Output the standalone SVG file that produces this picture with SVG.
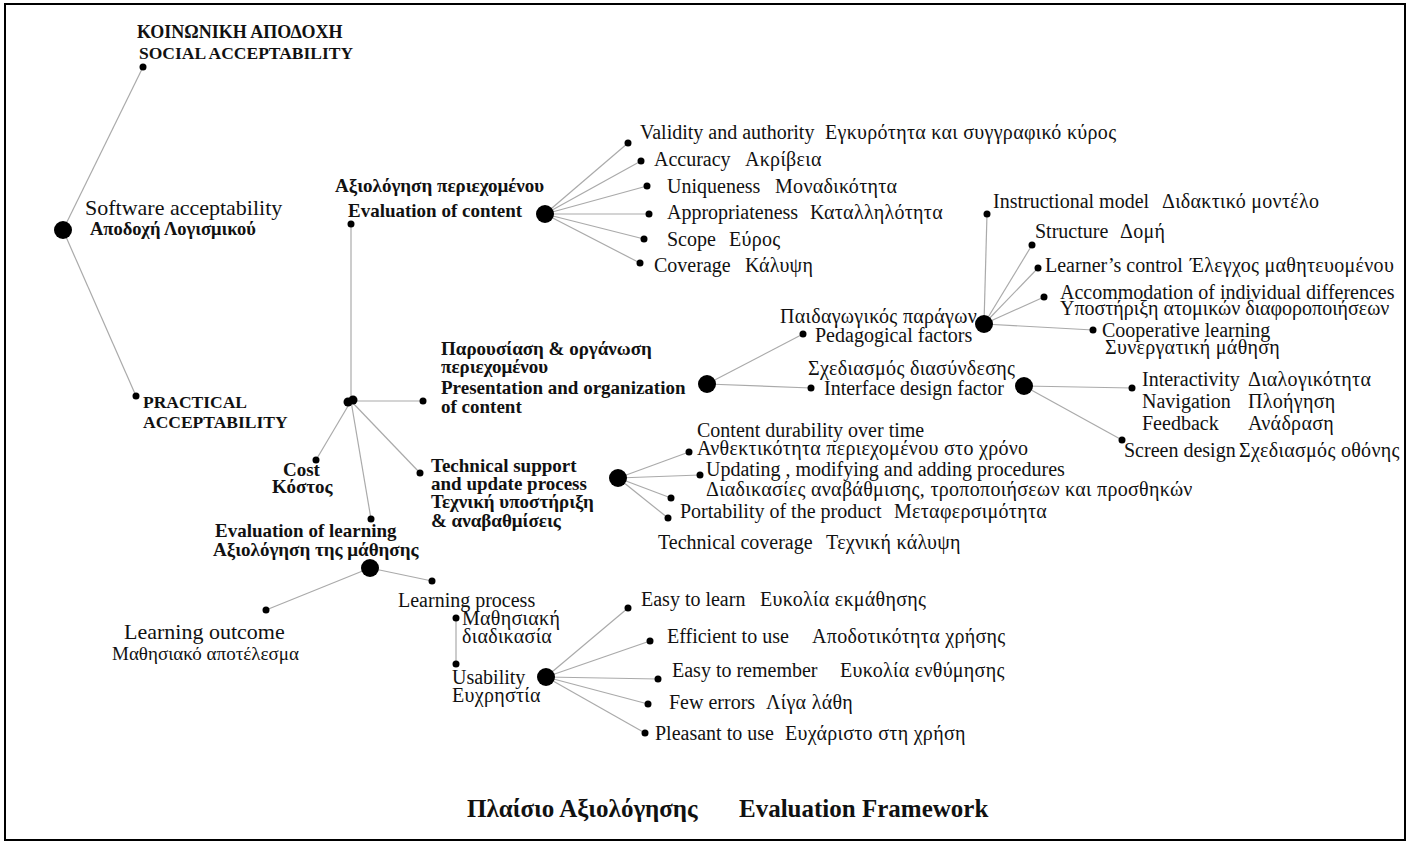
<svg xmlns="http://www.w3.org/2000/svg" width="1410" height="845" viewBox="0 0 1410 845">
<style>
text{font-family:"Liberation Serif","DejaVu Serif",serif;font-size:20px;fill:#111}
.g{letter-spacing:0.3px}
.b{font-weight:bold;font-size:19px}
.h{font-weight:bold;font-size:17.5px}
.big{font-size:22px}
.t{font-weight:bold;font-size:25px}
.ln line{stroke:#aaa;stroke-width:1.2}
circle{fill:#000}
</style>
<rect x="5" y="4" width="1400" height="836" fill="#fff" stroke="#000" stroke-width="2"/>
<g class="ln" id="connectors">
<line x1="63" y1="230" x2="143" y2="67"/>
<line x1="63" y1="230" x2="136" y2="396"/>
<line x1="351" y1="401" x2="351" y2="224"/>
<line x1="351" y1="401" x2="423" y2="401"/>
<line x1="351" y1="401" x2="316" y2="460"/>
<line x1="351" y1="401" x2="371" y2="519"/>
<line x1="351" y1="401" x2="420" y2="473"/>
<line x1="545" y1="214" x2="628" y2="143"/>
<line x1="545" y1="214" x2="641" y2="161"/>
<line x1="545" y1="214" x2="647" y2="186"/>
<line x1="545" y1="214" x2="649" y2="214"/>
<line x1="545" y1="214" x2="644" y2="239"/>
<line x1="545" y1="214" x2="640" y2="263"/>
<line x1="707" y1="384" x2="803" y2="334"/>
<line x1="707" y1="384" x2="811" y2="388"/>
<line x1="984" y1="324" x2="987" y2="214"/>
<line x1="984" y1="324" x2="1032" y2="245"/>
<line x1="984" y1="324" x2="1038" y2="268"/>
<line x1="984" y1="324" x2="1044" y2="297"/>
<line x1="984" y1="324" x2="1093" y2="330"/>
<line x1="1024" y1="386" x2="1132" y2="388"/>
<line x1="1024" y1="386" x2="1122" y2="440"/>
<line x1="618" y1="478" x2="689" y2="452"/>
<line x1="618" y1="478" x2="700" y2="475"/>
<line x1="618" y1="478" x2="671" y2="498"/>
<line x1="618" y1="478" x2="668" y2="518"/>
<line x1="370" y1="568" x2="266" y2="610"/>
<line x1="370" y1="568" x2="432" y2="581"/>
<line x1="456" y1="618" x2="456" y2="664"/>
<line x1="546" y1="677" x2="628" y2="608"/>
<line x1="546" y1="677" x2="650" y2="641"/>
<line x1="546" y1="677" x2="658" y2="679"/>
<line x1="546" y1="677" x2="648" y2="704"/>
<line x1="546" y1="677" x2="645" y2="733"/>
</g>
<g id="software">
<circle cx="63" cy="230" r="9"/>
<text x="85" y="215" class="big">Software acceptability</text>
<text x="90" y="235" class="h" style="font-size:18.5px">Αποδοχή Λογισμικού</text>
</g>
<g id="social">
<circle cx="143" cy="67" r="3.5"/>
<text x="137" y="38" class="h" style="font-size:18px">ΚΟΙΝΩΝΙΚΗ ΑΠΟΔΟΧΗ</text>
<text x="139" y="59" class="h">SOCIAL ACCEPTABILITY</text>
</g>
<g id="practical">
<circle cx="136" cy="396" r="3.5"/>
<text x="143" y="408" class="h">PRACTICAL</text>
<text x="143" y="428" class="h">ACCEPTABILITY</text>
</g>
<g id="hub">
<circle cx="348" cy="402" r="4.5"/>
<circle cx="353" cy="400" r="4.5"/>
</g>
<g id="eval-content">
<circle cx="351" cy="224" r="3.5"/>
<text x="335" y="192" class="b">Αξιολόγηση περιεχομένου</text>
<text x="348" y="217" class="b">Evaluation of content</text>
<circle cx="545" cy="214" r="9"/>
</g>
<g id="content-leaves">
<circle cx="628" cy="143" r="3.5"/><text x="640" y="139">Validity and authority<tspan x="825" class="g">Εγκυρότητα και συγγραφικό κύρος</tspan></text>
<circle cx="641" cy="161" r="3.5"/><text x="654" y="166">Accuracy<tspan x="745" class="g">Ακρίβεια</tspan></text>
<circle cx="647" cy="186" r="3.5"/><text x="667" y="193">Uniqueness<tspan x="775" class="g">Μοναδικότητα</tspan></text>
<circle cx="649" cy="214" r="3.5"/><text x="667" y="219">Appropriateness<tspan x="810" class="g">Καταλληλότητα</tspan></text>
<circle cx="644" cy="239" r="3.5"/><text x="667" y="246">Scope<tspan x="729" class="g">Εύρος</tspan></text>
<circle cx="640" cy="263" r="3.5"/><text x="654" y="272">Coverage<tspan x="745" class="g">Κάλυψη</tspan></text>
</g>
<g id="presentation">
<circle cx="423" cy="401" r="3.5"/>
<text x="441" y="355" class="b">Παρουσίαση &amp; οργάνωση</text>
<text x="441" y="373" class="b">περιεχομένου</text>
<text x="441" y="394" class="b">Presentation and organization</text>
<text x="441" y="413" class="b">of content</text>
<circle cx="707" cy="384" r="9"/>
</g>
<g id="pedagogical">
<circle cx="803" cy="334" r="3.5"/>
<text x="780" y="323" class="g">Παιδαγωγικός παράγων</text>
<text x="815" y="342">Pedagogical factors</text>
<circle cx="984" cy="324" r="9"/>
</g>
<g id="pedagogical-leaves">
<circle cx="987" cy="214" r="3.5"/><text x="993" y="208">Instructional model<tspan x="1162" class="g">Διδακτικό μοντέλο</tspan></text>
<circle cx="1032" cy="245" r="3.5"/><text x="1035" y="238">Structure<tspan x="1120" class="g">Δομή</tspan></text>
<circle cx="1038" cy="268" r="3.5"/><text x="1045" y="272">Learner’s control<tspan x="1190" class="g">Έλεγχος μαθητευομένου</tspan></text>
<circle cx="1044" cy="297" r="3.5"/><text x="1060" y="299">Accommodation of individual differences</text><text x="1060" y="315">Υποστήριξη ατομικών διαφοροποιήσεων</text>
<circle cx="1093" cy="330" r="3.5"/><text x="1102" y="337">Cooperative learning</text><text x="1105" y="354" class="g">Συνεργατική μάθηση</text>
</g>
<g id="interface">
<circle cx="811" cy="388" r="3.5"/>
<text x="808" y="375" class="g">Σχεδιασμός διασύνδεσης</text>
<text x="824" y="395">Interface design factor</text>
<circle cx="1024" cy="386" r="9"/>
</g>
<g id="interface-leaves">
<circle cx="1132" cy="388" r="3.5"/>
<text x="1142" y="386">Interactivity<tspan x="1248" class="g">Διαλογικότητα</tspan></text>
<text x="1142" y="408">Navigation<tspan x="1248" class="g">Πλοήγηση</tspan></text>
<text x="1142" y="430">Feedback<tspan x="1248" class="g">Ανάδραση</tspan></text>
<circle cx="1122" cy="440" r="3.5"/><text x="1124" y="457">Screen design<tspan x="1239" class="g">Σχεδιασμός οθόνης</tspan></text>
</g>
<g id="cost">
<circle cx="316" cy="460" r="3.5"/>
<text x="283" y="476" class="b">Cost</text>
<text x="272" y="493" class="b">Κόστος</text>
</g>
<g id="technical">
<circle cx="420" cy="473" r="3.5"/>
<text x="431" y="472" class="b">Technical support</text>
<text x="431" y="490" class="b">and update process</text>
<text x="431" y="508" class="b">Τεχνική υποστήριξη</text>
<text x="431" y="527" class="b">&amp; αναβαθμίσεις</text>
<circle cx="618" cy="478" r="9"/>
</g>
<g id="technical-leaves">
<circle cx="689" cy="452" r="3.5"/><text x="697" y="437">Content durability over time</text><text x="697" y="455" class="g">Ανθεκτικότητα περιεχομένου στο χρόνο</text>
<circle cx="700" cy="475" r="3.5"/><text x="706" y="476">Updating , modifying and adding procedures</text><text x="706" y="496" class="g">Διαδικασίες αναβάθμισης, τροποποιήσεων και προσθηκών</text>
<circle cx="671" cy="498" r="3.5"/>
<circle cx="668" cy="518" r="3.5"/><text x="680" y="518">Portability of the product<tspan x="894" class="g">Μεταφερσιμότητα</tspan></text>
<text x="658" y="549">Technical coverage<tspan x="826" class="g">Τεχνική κάλυψη</tspan></text>
</g>
<g id="eval-learning">
<circle cx="371" cy="519" r="3.5"/>
<text x="215" y="537" class="b">Evaluation of learning</text>
<text x="213" y="556" class="b">Αξιολόγηση της μάθησης</text>
<circle cx="370" cy="568" r="9"/>
</g>
<g id="learning-outcome">
<circle cx="266" cy="610" r="3.5"/>
<text x="124" y="639" class="big">Learning outcome</text>
<text x="112" y="660" style="font-size:19px">Μαθησιακό αποτέλεσμα</text>
</g>
<g id="learning-process">
<circle cx="432" cy="581" r="3.5"/>
<text x="398" y="607">Learning process</text>
<circle cx="456" cy="618" r="3.5"/>
<text x="462" y="625" class="g">Μαθησιακή</text>
<text x="462" y="643" class="g">διαδικασία</text>
</g>
<g id="usability">
<circle cx="456" cy="664" r="3.5"/>
<text x="452" y="684">Usability</text>
<text x="452" y="702" class="g">Ευχρηστία</text>
<circle cx="546" cy="677" r="9"/>
</g>
<g id="usability-leaves">
<circle cx="628" cy="608" r="3.5"/><text x="641" y="606">Easy to learn<tspan x="760" class="g">Ευκολία εκμάθησης</tspan></text>
<circle cx="650" cy="641" r="3.5"/><text x="667" y="643">Efficient to use<tspan x="812" class="g">Αποδοτικότητα χρήσης</tspan></text>
<circle cx="658" cy="679" r="3.5"/><text x="672" y="677">Easy to remember<tspan x="840" class="g">Ευκολία ενθύμησης</tspan></text>
<circle cx="648" cy="704" r="3.5"/><text x="669" y="709">Few errors<tspan x="766" class="g">Λίγα λάθη</tspan></text>
<circle cx="645" cy="733" r="3.5"/><text x="655" y="740">Pleasant to use<tspan x="785" class="g">Ευχάριστο στη χρήση</tspan></text>
</g>
<g id="title">
<text x="467" y="817" class="t">Πλαίσιο Αξιολόγησης</text>
<text x="739" y="817" class="t">Evaluation Framework</text>
</g>
</svg>
